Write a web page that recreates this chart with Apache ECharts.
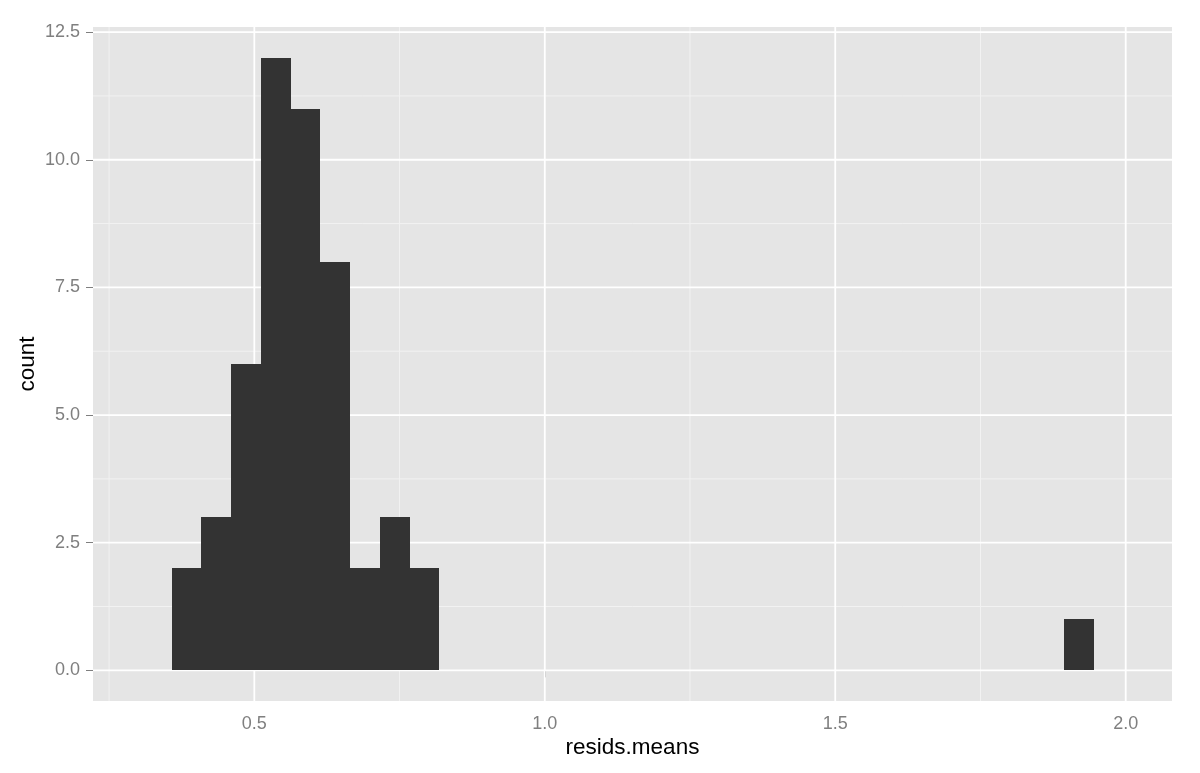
<!DOCTYPE html>
<html>
<head>
<meta charset="utf-8">
<script src="https://cdn.jsdelivr.net/npm/echarts@6/dist/echarts.min.js"></script>
<style>
html,body{margin:0;padding:0;background:#fff;}
#chart{width:1200px;height:773px;}
</style>
</head>
<body>
<div id="chart"></div>
<script>
// ---- data ----
const binLeft = [0.3578, 0.4090, 0.4602, 0.5114, 0.5626, 0.6138, 0.6650, 0.7162, 0.7674, 1.8939];
const binWidth = 0.0512;
const counts = [2, 3, 6, 12, 11, 8, 2, 3, 2, 1];
const xTicks = [0.5, 1.0, 1.5, 2.0];
const xMinor = [0.25, 0.75, 1.25, 1.75];
const yTicks = [0, 2.5, 5, 7.5, 10, 12.5];
const yMinor = [1.25, 3.75, 6.25, 8.75, 11.25];
const xTitle = 'resids.means';
const yTitle = 'count';

const xMin = 0.2223, xMax = 2.0797;
const yMin = -0.6, yMax = 12.6;

const barData = binLeft.map((l, i) => [l, l + binWidth, counts[i]]);
const gridData = [];
xMinor.forEach(v => gridData.push(['x', v, 0]));
yMinor.forEach(v => gridData.push(['y', v, 0]));
xTicks.forEach(v => gridData.push(['x', v, 1]));
yTicks.forEach(v => gridData.push(['y', v, 1]));

const FONT = '"Liberation Sans", Arial, sans-serif';

const chart = echarts.init(document.getElementById('chart'), null, {renderer: 'canvas'});
chart.setOption({
  animation: false,
  backgroundColor: '#ffffff',
  grid: {
    left: 93, right: 28, top: 27, bottom: 72,
    outerBoundsMode: 'none', containLabel: false,
    show: true, backgroundColor: '#E5E5E5', borderWidth: 0
  },
  xAxis: {
    type: 'value', min: xMin, max: xMax,
    name: xTitle, nameLocation: 'middle', nameGap: 35, nameMoveOverlap: false,
    nameTextStyle: {color: '#000', fontSize: 22.5, fontFamily: FONT},
    axisLine: {show: false},
    axisTick: {show: true, customValues: xTicks, length: 7, lineStyle: {color: '#7F7F7F', width: 1}},
    axisLabel: {customValues: xTicks, color: '#7F7F7F', fontSize: 18, fontFamily: FONT, margin: 14,
      formatter: v => v.toFixed(1)},
    splitLine: {show: false}
  },
  yAxis: {
    type: 'value', min: yMin, max: yMax,
    name: yTitle, nameLocation: 'middle', nameGap: 54, nameRotate: 90, nameMoveOverlap: false,
    nameTextStyle: {color: '#000', fontSize: 22.5, fontFamily: FONT},
    axisLine: {show: false},
    axisTick: {show: true, customValues: yTicks, length: 7, lineStyle: {color: '#7F7F7F', width: 1}},
    axisLabel: {customValues: yTicks, color: '#7F7F7F', fontSize: 18, fontFamily: FONT, margin: 13,
      formatter: v => v.toFixed(1)},
    splitLine: {show: false}
  },
  series: [
    {
      type: 'custom', z: 1, silent: true,
      data: gridData,
      encode: {x: 1, y: 1},
      renderItem: function (params, api) {
        const cs = params.coordSys;
        const kind = gridData[params.dataIndex][0];
        const v = gridData[params.dataIndex][1];
        const major = gridData[params.dataIndex][2] === 1;
        let shape;
        if (kind === 'x') {
          const px = api.coord([v, yMin])[0];
          shape = {x1: px, y1: cs.y, x2: px, y2: cs.y + cs.height};
        } else {
          const py = api.coord([xMin, v])[1];
          shape = {x1: cs.x, y1: py, x2: cs.x + cs.width, y2: py};
        }
        return {
          type: 'line', shape: shape,
          style: {stroke: major ? '#FFFFFF' : '#F2F2F2', lineWidth: major ? 1.8 : 1}
        };
      }
    },
    {
      type: 'custom', z: 2, silent: true,
      data: barData,
      encode: {x: [0, 1], y: 2},
      renderItem: function (params, api) {
        const p0 = api.coord([api.value(0), 0]);
        const p1 = api.coord([api.value(1), api.value(2)]);
        const x0 = Math.round(p0[0]), x1 = Math.round(p1[0]);
        const yb = Math.round(p0[1]), yt = Math.round(p1[1]);
        return {
          type: 'rect',
          shape: {x: x0, y: yt, width: x1 - x0, height: yb - yt},
          style: {fill: '#333333'}
        };
      }
    }
  ]
});
</script>
</body>
</html>
